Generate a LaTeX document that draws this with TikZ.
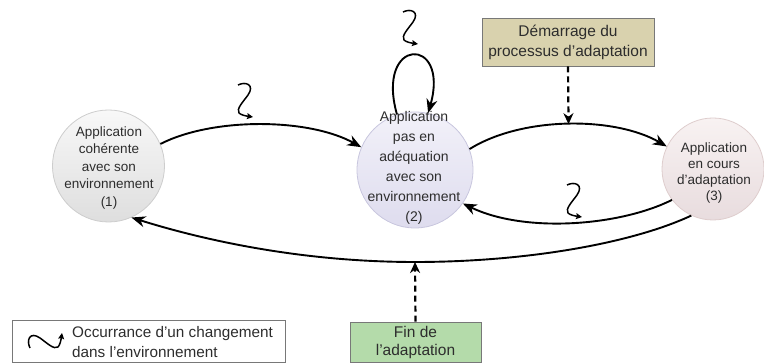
\documentclass[tikz,border=0pt]{standalone}
\usepackage{fontspec}
\setmainfont{Liberation Sans}
\usetikzlibrary{arrows.meta}
\definecolor{txt}{RGB}{45,45,45}
\definecolor{khaki}{RGB}{217,210,174}
\definecolor{vert}{RGB}{180,219,170}
\definecolor{boxline}{RGB}{120,120,120}
\tikzset{
  stnode/.style={circle, line width=0.8pt, inner sep=0pt, shading=axis, shading angle=15},
  sttext/.style={align=center, text=txt, inner sep=0pt},
  flow/.style={line width=1.9pt, -{Stealth[length=14pt,width=11pt,inset=4.5pt]}},
  trig/.style={line width=2.2pt, dash pattern=on 6pt off 4pt, -{Stealth[length=11pt,width=10pt]}},
  evbox/.style={draw=boxline, line width=0.9pt, inner sep=0pt, text=txt, align=center},
  chg/.pic={\draw[line width=1.5pt, line join=round, -{Stealth[length=6pt,width=6pt,inset=1pt]}]
     (-7,-15) .. controls (1,-19) and (10,-15) .. (3,-5)
     .. controls (-2,2) and (-9,9) .. (-6,13)
     .. controls (-4,15) and (1,16) .. (8,17);}
}
\begin{document}
\begin{tikzpicture}[x=1pt,y=-1pt]
\useasboundingbox (0,0) rectangle (764,363);

% states
\node[stnode, draw={rgb,255:red,205;green,205;blue,205}, minimum size=112pt,
      top color={rgb,255:red,248;green,248;blue,248}, bottom color={rgb,255:red,222;green,222;blue,222}]
      (n1) at (108.5,166) {};
\node[sttext, font=\fontsize{13.5}{17.5}\selectfont] (t1) at (109,168)
      {Application\\cohérente\\avec son\\environnement\\(1)};

\node[stnode, draw={rgb,255:red,200;green,198;blue,222}, minimum size=116pt,
      top color={rgb,255:red,242;green,241;blue,249}, bottom color={rgb,255:red,222;green,220;blue,238}]
      (n2) at (415,170) {};
\node[sttext, font=\fontsize{14}{20}\selectfont] (t2) at (414,168)
      {Application\\pas en\\adéquation\\avec son\\environnement\\(2)};

\node[stnode, draw={rgb,255:red,222;green,205;blue,205}, minimum size=102pt,
      top color={rgb,255:red,248;green,242;blue,242}, bottom color={rgb,255:red,232;green,220;blue,222}]
      (n3) at (713,169) {};
\node[sttext, font=\fontsize{13.5}{16}\selectfont] (t3) at (714,173)
      {Application\\en cours\\d'adaptation\\(3)};

% event boxes
\node[evbox, fill=khaki, minimum width=172pt, minimum height=48pt,
      font=\fontsize{15.5}{20}\selectfont] (start) at (568,42)
      {Démarrage du\\processus d'adaptation};
\node[evbox, fill=vert, minimum width=131pt, minimum height=40pt,
      font=\fontsize{15.5}{18}\selectfont] (endbox) at (415.5,342)
      {Fin de\\l'adaptation};

% transitions
\draw[flow] (n1.23) .. controls +(53,-27) and +(-52,-29) .. (n2.157);
\draw[flow] (n2.21) .. controls +(53,-33) and +(-52,-30) .. (n3.154)
      coordinate[pos=0.5] (top23);
\draw[flow] (n2.108) .. controls +(-22,-78) and +(22,-78) .. (n2.77);
\draw[flow] (n3.217) .. controls +(-52,26) and +(62,30) .. (n2.325);
\coordinate (m) at (415,262);
\draw[flow] (n3.245) .. controls +(-60,28) and +(110,0) .. (m)
      .. controls +(-115,0) and +(70,22) .. (n1.294);

% triggers
\draw[trig] (start.south) -- (top23);
\draw[trig] (endbox.north) -- (m);

% change occurrences
\pic at (245,100) {chg};
\pic at (410,27) {chg};
\pic at (574,200) {chg};

% legend
\node[draw=boxline, line width=0.9pt, minimum width=273pt, minimum height=42.5pt, inner sep=0pt]
      (legend) at (148.5,341.5) {};
\pic[rotate=90] at (45,341) {chg};
\node[anchor=west, align=left, text=txt, inner sep=0pt,
      font=\fontsize{15.3}{20}\selectfont] (legtext) at (72,342)
      {Occurrance d'un changement\\dans l'environnement};
\end{tikzpicture}
\end{document}
